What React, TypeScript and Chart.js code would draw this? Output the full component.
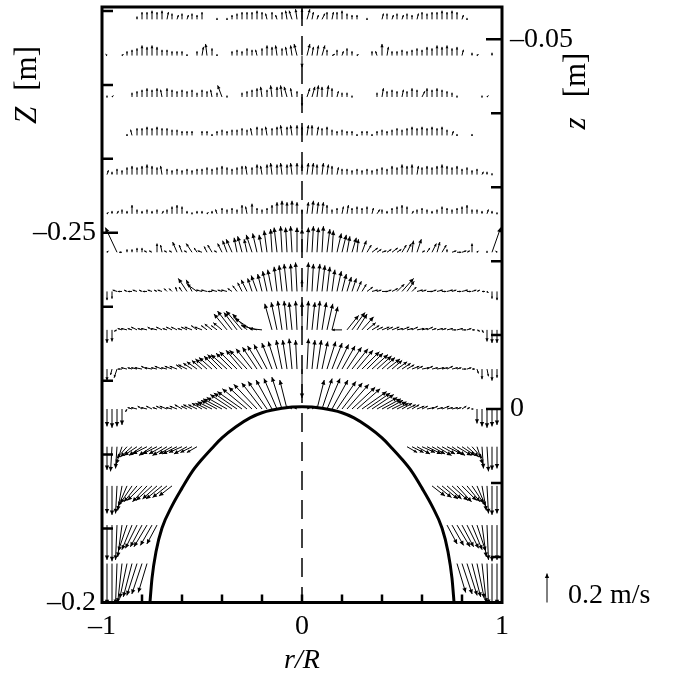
import React, { useEffect, useRef } from "react";
import { Chart, registerables } from "chart.js";

Chart.register(...registerables);

const _ = null;
const SERIF = '"Liberation Serif", "Times New Roman", serif';

// ---------- axes ----------
const X_TICKS = [-1, -0.8, -0.6, -0.4, -0.2, 0, 0.2, 0.4, 0.6, 0.8, 1];
const X_LABELS = ["–1", "", "", "", "", "0", "", "", "", "", "1"];
const ZL_TICKS = [-0.28, -0.27, -0.26, -0.25, -0.24, -0.23, -0.22, -0.21, -0.2];
const ZL_LABELS = ["", "", "", "–0.25", "", "", "", "", "–0.2"];
const ZR_TICKS = [-0.05, -0.04, -0.03, -0.02, -0.01, 0, 0.01, 0.02];
const ZR_LABELS = ["–0.05", "", "", "", "", "0", "", ""];
const Z_RIGHT_RANGE = [-0.05437, 0.02617];
const Z_LEFT_RANGE = [-0.28054, -0.2];

// ---------- interface (dome) ----------
const DOME_X = [-0.765, -0.76, -0.75, -0.73, -0.7, -0.65, -0.6, -0.55, -0.5, -0.45, -0.4, -0.33, -0.26, -0.2, -0.1, 0, 0.1, 0.2, 0.26, 0.33, 0.4, 0.45, 0.5, 0.55, 0.6, 0.65, 0.7, 0.73, 0.75, 0.76, 0.765];
const DOME_Z = [0.0279, 0.0261, 0.0229, 0.0193, 0.0161, 0.0131, 0.0107, 0.0085, 0.0068, 0.0053, 0.0039, 0.0024, 0.0012, 0.0005, -0.0001, -0.0003, -0.0001, 0.0005, 0.0012, 0.0024, 0.0039, 0.0053, 0.0068, 0.0085, 0.0107, 0.0131, 0.0161, 0.0193, 0.0229, 0.0261, 0.0279];

// ---------- velocity field: columns r/R, rows z [m], velocities in cm/s (w > 0 upward) ----------
const COLS = [
  -0.975, -0.95, -0.925, -0.9, -0.875, -0.85, -0.825, -0.8, -0.775, -0.75,
  -0.725, -0.7, -0.675, -0.65, -0.625, -0.6, -0.575, -0.55, -0.525, -0.5,
  -0.475, -0.45, -0.425, -0.4, -0.375, -0.35, -0.325, -0.3, -0.275, -0.25,
  -0.225, -0.2, -0.175, -0.15, -0.125, -0.1, -0.075, -0.05, -0.025, 0,
  0.025, 0.05, 0.075, 0.1, 0.125, 0.15, 0.175, 0.2, 0.225, 0.25,
  0.275, 0.3, 0.325, 0.35, 0.375, 0.4, 0.425, 0.45, 0.475, 0.5,
  0.525, 0.55, 0.575, 0.6, 0.625, 0.65, 0.675, 0.7, 0.725, 0.75,
  0.775, 0.8, 0.825, 0.85, 0.875, 0.9, 0.925, 0.95, 0.975,
];
const ROW_Z = [-0.0527, -0.0478, -0.0422, -0.037, -0.0317, -0.0264, -0.0212, -0.0159, -0.0107, -0.0054, 0.0, 0.0051, 0.0104, 0.0157, 0.0209];

const U_M10 = [0,0,0,0,0,0,0,0,0,0, 0,0,1,0,1,0,1,0,0,0, 0,0,0,0,0,0,0,0,0,0, 0,0,-1,0,-1,0,-1,-2,-1,0, 2,1,1,2,0,1,0,0,0,0, 0,0,0,0,0,1,0,1,0,1, 0,0,1,0,0,0,0,0,0,0, 0,1,0,0,0,0,0,0,0];
const W_M10 = [0,0,0,0,0,0,2,5,5,6, 5,6,5,4,3,4,3,4,3,5, 0,0,1,0,1,3,4,5,5,5, 6,5,4,5,3,5,6,6,7,7, 7,5,3,4,5,5,5,6,4,3, 3,0,1,0,0,4,4,3,4,3, 4,3,4,5,4,5,5,6,5,6, 5,3,1,0,0,0,0,0,0];
const U_M9 = [-1,0,0,1,0,0,0,0,0,0, 0,0,0,0,0,0,0,0,0,1, -1,0,0,0,0,0,0,0,0,0, -1,0,0,0,-1,0,-1,-1,-2,0, 2,1,1,2,0,2,0,1,0,0, 1,0,0,0,-1,0,1,0,0,0, 0,0,0,0,0,0,0,0,0,0, 0,1,0,0,1,0,0,0,0];
const W_M9 = [1,0,0,1,3,4,5,7,6,7, 6,4,4,3,3,3,1,0,3,6, 8,5,1,0,0,3,4,3,5,4, 4,5,7,6,7,5,6,7,8,-8, 8,6,7,7,4,1,4,3,5,3, 1,0,0,3,3,8,6,3,3,4, 3,4,5,4,6,5,7,6,7,5, 6,4,0,2,1,0,0,2,0];
const U_M8 = [0,1,0,0,0,0,0,0,0,0, 0,-1,0,0,0,0,0,0,0,0, 0,-1,0,-3,0,0,0,0,0,0, 0,-1,0,-1,0,-1,-2,-1,0,0, 2,2,1,0,1,0,1,0,0,0, 0,0,0,0,0,1,0,0,0,1, 0,0,0,2,0,0,0,0,0,0, 0,0,0,0,0,0,1,0,0];
const W_M8 = [1,1,0,0,0,3,4,5,6,5, 6,5,6,5,4,5,4,5,3,5, 4,5,3,8,1,0,0,3,4,5, 6,7,5,8,7,8,7,6,4,-6, 6,7,8,7,8,6,4,3,3,1, 0,0,0,0,3,6,4,5,4,5, 4,6,5,4,6,5,6,5,4,3, 1,0,0,0,0,1,1,0,0];
const U_M7 = [0,0,0,0,0,-1,0,0,0,0, 0,0,0,0,0,0,0,0,0,0, 0,0,0,0,0,0,0,0,0,-1, 0,0,-1,0,0,-1,0,-1,0,0, 1,0,1,0,0,0,0,0,0,0, 0,0,0,0,0,0,0,0,0,0, 0,0,0,0,0,0,0,0,0,1, 0,0,0,0,0,0,0,0,0];
const W_M7 = [0,0,0,0,1,4,5,5,6,5, 6,5,5,4,4,3,3,3,0,3, 3,1,3,4,3,4,4,5,4,5, 6,5,6,5,6,7,6,7,7,6, 7,7,6,5,6,4,3,4,3,3, 1,3,3,1,3,4,3,4,5,4, 5,6,5,6,5,6,5,6,4,3, 1,0,0,1,0,0,0,0,0];
const U_M6 = [1,0,0,0,0,0,0,0,0,0, 0,-1,0,0,0,0,0,0,0,0, 0,0,0,0,0,0,0,0,-1,0, 0,-1,0,-1,0,-1,0,-1,0,0, 1,1,0,1,1,0,1,0,0,0, 0,0,0,0,0,0,0,0,0,0, 0,0,1,0,0,0,0,0,0,0, 0,0,0,0,0,1,0,0,0];
const W_M6 = [3,2,4,3,5,6,5,6,7,6, 5,6,4,3,4,3,4,3,4,4, 5,4,5,6,5,4,5,6,6,5, 7,6,7,8,7,8,7,8,8,7, 8,8,7,8,7,6,5,4,4,3, 4,3,4,3,4,5,4,6,5,7, 6,7,6,5,6,5,6,7,6,5, 6,4,5,3,4,2,2,1,0];
const U_M5 = [1,0,1,0,0,0,0,0,0,0, 0,1,0,0,0,0,0,0,0,0, 1,0,-1,0,0,0,0,0,-1,0, 0,0,0,0,0,0,0,0,0,0, 1,1,1,1,0,0,0,1,1,0, 0,0,0,1,2,0,0,0,0,0, 0,1,0,0,0,0,0,0,0,0, 0,0,0,0,0,0,1,0,0];
const W_M5 = [1,2,2,3,2,6,3,2,3,2, 3,2,3,5,6,5,2,1,2,2, 1,2,3,4,3,4,3,6,5,7, 4,3,4,6,8,9,8,9,8,3, 8,9,8,8,6,3,4,5,6,4, 5,4,5,4,3,3,2,4,5,6, 5,2,3,4,3,2,3,5,4,3, 4,5,6,3,3,2,3,2,1];
const U_M4 = [1,0,-8,-2,0,0,0,0,-2,-2, 0,-1,-2,-2,-3,-2,-2,-4,-2,-3, -2,-3,-2,-3,-3,-4,-2,-3,-2,-4, -3,-2,-2,-1,-2,-1,-1,-1,0,0, 1,1,1,1,2,1,3,3,2,3, 1,3,3,4,3,3,3,4,3,3, 3,1,3,2,2,3,2,3,0,3, 3,3,2,0,1,0,0,6,-1];
const W_M4 = [1,0,17,0,2,2,3,3,1,1, 6,5,1,1,7,5,1,6,3,1, 4,5,1,6,8,9,10,11,9,12, 13,12,15,16,17,18,17,18,17,16, 17,18,17,18,16,15,13,12,11,10, 9,8,5,3,2,1,2,3,2,5, 6,8,9,1,3,6,7,5,2,1, 0,1,1,6,1,0,1,17,1];
const U_M3 = [0,0,-3,-3,-2,-3,-3,-2,-3,-3, -2,-3,-2,-2,-1,-2,-6,-4,-7,-4, -4,-3,-4,-3,-4,-3,-3,-3,-4,-3, -4,-3,-3,-3,-2,-2,-2,-1,-1,0, 1,1,2,2,2,2,3,3,3,3, 3,3,4,4,3,4,3,4,5,8, 5,3,4,3,4,3,4,3,4,3, 3,4,3,3,2,2,1,0,0];
const W_M3 = [-6,-5,1,0,1,0,1,1,0,1, 1,1,2,2,3,3,9,8,5,1, 1,0,1,1,1,2,4,6,8,9, 11,12,14,15,17,18,19,19,20,8, 20,19,19,18,17,15,14,12,10,9, 7,5,3,1,1,0,1,2,5,9, 7,3,1,1,0,1,1,0,1,1, 0,1,0,1,1,0,-1,-5,-6];
const U_M2 = [0,0,-2,-3,-4,-3,-4,-3,-4,-3, -4,-4,-3,-4,-4,-3,-4,-5,-4,-5, -4,-5,-4,-6,-9,-10,-9,-11,-10,-12, -11,-9,0,-5,-4,-3,-2,-2,-1,0, 1,2,2,3,4,4,0,-7,8,9, 7,8,6,5,4,5,4,5,4,5, 4,4,5,4,4,3,4,3,4,3, 4,3,3,2,2,1,0,0,0];
const W_M2 = [-9,-8,-1,1,1,1,2,1,1,2, 1,2,1,2,2,1,2,2,3,2, 3,4,3,5,11,13,12,13,11,8, 3,1,0,18,19,20,20,19,20,19, 20,19,20,19,18,16,0,0,10,12, 11,9,5,3,2,2,2,2,1,2, 1,2,1,1,2,1,1,1,1,0, 1,0,1,0,-1,-2,-8,-9,-9];
const U_M1 = [0,-1,-2,-3,-4,-3,-4,-5,-4,-5, -4,-5,-4,-5,-5,-4,-6,-6,-7,-7, -8,-9,-9,-10,-11,-11,-12,-11,-12,-11, -10,-10,-9,-7,-6,-4,-3,-2,-1,0, 1,2,3,4,6,7,8,9,10,11, 11,12,11,11,10,9,9,7,7,6, 5,5,4,5,4,4,5,4,4,4, 3,3,3,2,1,0,1,0,0];
const W_M1 = [-8,-4,-6,0,1,1,1,1,2,1, 1,2,1,2,2,3,3,4,5,6, 7,8,9,10,10,11,12,13,13,14, 15,16,17,18,19,20,20,21,20,-20, 21,20,20,19,19,18,17,16,15,14, 13,12,11,10,9,8,7,6,5,4, 3,2,2,1,2,1,1,1,2,1, 1,0,1,0,-3,-7,-5,-8,-6];
const U_P0 = [0,0,0,0,-1,-3,-4,-3,-4,-4, -3,-4,-5,-4,-5,-5,-4,-6,-6,-7, -8,-10,-11,-13,-14,-15,-16,-17,-17,-16, -16,-14,-13,-11,-9,-7,-5,-3,-2,0, 2,3,5,7,9,11,13,14,15,16, 16,17,16,15,14,13,11,10,8,7, 6,5,5,4,5,4,4,5,4,4, 3,3,2,1,0,0,0,0,0];
const W_P0 = [-12,-13,-12,-11,-2,1,1,2,1,2, 1,2,2,1,2,3,2,3,3,4, 4,5,6,7,8,10,11,12,14,15, 17,18,19,20,21,22,20,2,1,0, 1,2,20,21,21,20,19,18,17,15, 14,12,11,10,8,7,6,5,4,4, 3,3,2,2,1,2,1,2,1,1, 1,2,1,0,-10,-12,-13,-12,-11];
const U_P1 = [0,-1,-1,-4,-7,-8,-9,-9,-10,-9, -10,-9,-10,-9,-10,-9,-9,-8,-7, _,
  _,_,_,_,_,_,_,_,_,_, _,_,_,_,_,_,_,_,_,_, _,_,_,_,_,_,_,_,_,_, _,_,_,_,_,_,_,_,_,_,
  7,8,9,9,10,9,10,9,10,9, 10,9,8,7,4,1,1,0,0];
const W_P1 = [-16,-17,-15,-12,-8,-7,-6,-6,-5,-6, -5,-5,-6,-5,-5,-4,-5,-4,-4, _,
  _,_,_,_,_,_,_,_,_,_, _,_,_,_,_,_,_,_,_,_, _,_,_,_,_,_,_,_,_,_, _,_,_,_,_,_,_,_,_,_,
  -4,-4,-5,-4,-5,-5,-6,-5,-5,-6, -6,-6,-7,-8,-12,-15,-17,-16,-15];
const U_P2 = [0,0,-1,-3,-6,-8,-9,-10,-10,-11, -10,-11,-10,-9, _,_,_,_,_,_,
  _,_,_,_,_,_,_,_,_,_, _,_,_,_,_,_,_,_,_,_, _,_,_,_,_,_,_,_,_,_, _,_,_,_,_,_,_,_,_,_, _,_,_,_,_,
  9,10,11,10,11, 10,10,9,8,6,3,1,0,0];
const W_P2 = [-19,-20,-19,-17,-14,-12,-11,-10,-11,-10, -9,-9,-8,-7, _,_,_,_,_,_,
  _,_,_,_,_,_,_,_,_,_, _,_,_,_,_,_,_,_,_,_, _,_,_,_,_,_,_,_,_,_, _,_,_,_,_,_,_,_,_,_, _,_,_,_,_,
  -7,-8,-9,-9,-10, -11,-10,-11,-12,-14,-17,-19,-20,-19];
const U_P3 = [0,0,-1,-3,-6,-7,-8,-8,-9,-8, -7, _,_,_,_,_,_,_,_,_,
  _,_,_,_,_,_,_,_,_,_, _,_,_,_,_,_,_,_,_,_, _,_,_,_,_,_,_,_,_,_, _,_,_,_,_,_,_,_,_,_, _,_,_,_,_,_,_,_,
  7,8, 9,8,8,7,6,3,1,0,0];
const W_P3 = [-24,-25,-24,-22,-18,-17,-16,-15,-15,-14, -13, _,_,_,_,_,_,_,_,_,
  _,_,_,_,_,_,_,_,_,_, _,_,_,_,_,_,_,_,_,_, _,_,_,_,_,_,_,_,_,_, _,_,_,_,_,_,_,_,_,_, _,_,_,_,_,_,_,_,
  -13,-14, -15,-15,-16,-17,-18,-22,-24,-25,-24];
const U_P4 = [0,0,-1,-3,-5,-6,-7,-7,-6, _,
  _,_,_,_,_,_,_,_,_,_, _,_,_,_,_,_,_,_,_,_, _,_,_,_,_,_,_,_,_,_, _,_,_,_,_,_,_,_,_,_, _,_,_,_,_,_,_,_,_,_, _,_,_,_,_,_,_,_,_,_,
  6,7,7,6,5,3,1,0,0];
const W_P4 = [-28,-29,-28,-27,-24,-23,-22,-21,-20, _,
  _,_,_,_,_,_,_,_,_,_, _,_,_,_,_,_,_,_,_,_, _,_,_,_,_,_,_,_,_,_, _,_,_,_,_,_,_,_,_,_, _,_,_,_,_,_,_,_,_,_, _,_,_,_,_,_,_,_,_,_,
  -20,-21,-22,-23,-24,-27,-28,-29,-28];

const ROW_U = [U_M10, U_M9, U_M8, U_M7, U_M6, U_M5, U_M4, U_M3, U_M2, U_M1, U_P0, U_P1, U_P2, U_P3, U_P4];
const ROW_W = [W_M10, W_M9, W_M8, W_M7, W_M6, W_M5, W_M4, W_M3, W_M2, W_M1, W_P0, W_P1, W_P2, W_P3, W_P4];

const LEGEND_SPEED = 20; // cm/s
const LEGEND_TEXT = "0.2 m/s";
const LEGEND_X = 1.225; // r/R position of the reference arrow
const ARROW_PX_PER_LEGEND = 29; // drawn length of the 0.2 m/s arrow

function drawArrow(ctx: CanvasRenderingContext2D, x0: number, y0: number, x1: number, y1: number) {
  const dx = x1 - x0, dy = y1 - y0;
  const len = Math.hypot(dx, dy);
  if (len < 0.6) return;
  ctx.beginPath();
  ctx.moveTo(x0, y0);
  ctx.lineTo(x1, y1);
  ctx.stroke();
  const h = Math.min(5, Math.max(2.2, len * 0.32));
  const a = Math.atan2(dy, dx);
  const s = 0.45;
  ctx.beginPath();
  ctx.moveTo(x1, y1);
  ctx.lineTo(x1 - h * Math.cos(a - s), y1 - h * Math.sin(a - s));
  ctx.lineTo(x1 - h * Math.cos(a + s), y1 - h * Math.sin(a + s));
  ctx.closePath();
  ctx.fill();
}

const quiverPlugin = {
  id: "quiver",
  beforeDatasetsDraw(chart: any) {
    const { ctx, chartArea: ca, scales } = chart;
    const xs = scales.x, zs = scales.y;
    const pxX = xs.getPixelForValue(1) - xs.getPixelForValue(0);
    const pxZ = zs.getPixelForValue(0.01) - zs.getPixelForValue(0);
    const k = ARROW_PX_PER_LEGEND / LEGEND_SPEED;
    const kx = k / pxX; // r/R per cm/s
    const kz = k / (pxZ / 0.01); // m per cm/s
    ctx.save();
    ctx.beginPath();
    ctx.rect(ca.left, ca.top, ca.right - ca.left, ca.bottom - ca.top);
    ctx.clip();
    ctx.strokeStyle = "#000";
    ctx.fillStyle = "#000";
    ctx.lineWidth = 1;
    ROW_Z.forEach((z, r) => {
      const U = ROW_U[r], W = ROW_W[r];
      COLS.forEach((x, i) => {
        const u = U[i], w = W[i];
        if (u == null || w == null || (u === 0 && w === 0)) return;
        drawArrow(
          ctx,
          xs.getPixelForValue(x),
          zs.getPixelForValue(z),
          xs.getPixelForValue(x + u * kx),
          zs.getPixelForValue(z - w * kz)
        );
      });
    });
    ctx.restore();
  },
  afterDraw(chart: any) {
    const { ctx, chartArea: ca, scales } = chart;
    const xs = scales.x, zs = scales.y, zl = scales.yL;
    ctx.save();
    ctx.strokeStyle = "#000";
    ctx.fillStyle = "#000";
    // frame
    ctx.lineWidth = 3;
    ctx.strokeRect(ca.left, ca.top, ca.right - ca.left, ca.bottom - ca.top);
    // ticks
    ctx.lineWidth = 2.5;
    ctx.beginPath();
    X_TICKS.forEach((v, i) => {
      if (i === 0 || i === X_TICKS.length - 1) return;
      const p = xs.getPixelForValue(v);
      ctx.moveTo(p, ca.bottom);
      ctx.lineTo(p, ca.bottom - 8);
    });
    ZL_TICKS.forEach((v, i) => {
      const p = zl.getPixelForValue(v);
      const L = ZL_LABELS[i] ? 16 : 11;
      ctx.moveTo(ca.left, p);
      ctx.lineTo(ca.left + L, p);
    });
    ZR_TICKS.forEach((v, i) => {
      const p = zs.getPixelForValue(v);
      const L = ZR_LABELS[i] ? 16 : 11;
      ctx.moveTo(ca.right, p);
      ctx.lineTo(ca.right - L, p);
    });
    ctx.stroke();
    // tick labels
    ctx.font = `28px ${SERIF}`;
    ctx.textBaseline = "middle";
    ctx.textAlign = "right";
    ZL_TICKS.forEach((v, i) => {
      if (ZL_LABELS[i]) ctx.fillText(ZL_LABELS[i], ca.left - 6, zl.getPixelForValue(v));
    });
    ctx.textAlign = "left";
    ZR_TICKS.forEach((v, i) => {
      if (ZR_LABELS[i]) ctx.fillText(ZR_LABELS[i], ca.right + 8, zs.getPixelForValue(v));
    });
    ctx.textAlign = "center";
    ctx.textBaseline = "top";
    X_TICKS.forEach((v, i) => {
      if (X_LABELS[i]) ctx.fillText(X_LABELS[i], xs.getPixelForValue(v), ca.bottom + 10);
    });
    // x title
    ctx.font = `italic 28px ${SERIF}`;
    ctx.fillText("r/R", xs.getPixelForValue(0), ca.bottom + 44);
    // rotated titles
    const vTitle = (cx: number, cy: number, a: string, b: string, gap: number) => {
      ctx.save();
      ctx.translate(cx, cy);
      ctx.rotate(-Math.PI / 2);
      ctx.textAlign = "left";
      ctx.textBaseline = "middle";
      ctx.font = `italic 31px ${SERIF}`;
      const wa = ctx.measureText(a).width;
      ctx.font = `31px ${SERIF}`;
      const wb = ctx.measureText(b).width;
      const x0 = -(wa + gap + wb) / 2;
      ctx.font = `italic 31px ${SERIF}`;
      ctx.fillText(a, x0, 0);
      ctx.font = `31px ${SERIF}`;
      ctx.fillText(b, x0 + wa + gap, 0);
      ctx.restore();
    };
    vTitle(28, 85, "Z", "[m]", 16);
    vTitle(577, 91, "z", "[m]", 20);
    // legend arrow
    const k = ARROW_PX_PER_LEGEND / LEGEND_SPEED;
    const pxZ = (zs.getPixelForValue(0.01) - zs.getPixelForValue(0)) / 0.01;
    const lz = Z_RIGHT_RANGE[1];
    const lx = xs.getPixelForValue(LEGEND_X);
    ctx.lineWidth = 1;
    drawArrow(ctx, lx, zs.getPixelForValue(lz), lx, zs.getPixelForValue(lz - LEGEND_SPEED * k / pxZ));
    ctx.font = `28px ${SERIF}`;
    ctx.textAlign = "left";
    ctx.textBaseline = "alphabetic";
    ctx.fillText(LEGEND_TEXT, lx + 21, ca.bottom);
    ctx.restore();
  },
};

export default function App() {
  const ref = useRef<HTMLCanvasElement>(null);
  useEffect(() => {
    const chart = new Chart(ref.current as HTMLCanvasElement, {
      type: "scatter",
      data: {
        datasets: [
          {
            data: [
              { x: 0, y: Z_RIGHT_RANGE[0] },
              { x: 0, y: Z_RIGHT_RANGE[1] },
            ],
            showLine: true,
            borderColor: "#000",
            borderWidth: 1.5,
            borderDash: [19, 10],
            pointRadius: 0,
            xAxisID: "x",
            yAxisID: "y",
          },
          {
            data: DOME_X.map((x, i) => ({ x, y: DOME_Z[i] })),
            showLine: true,
            borderColor: "#000",
            borderWidth: 3,
            cubicInterpolationMode: "monotone",
            pointRadius: 0,
            xAxisID: "x",
            yAxisID: "y",
          },
        ],
      },
      options: {
        animation: false,
        responsive: true,
        maintainAspectRatio: false,
        events: [],
        layout: { padding: { left: 102, right: 176, top: 7, bottom: 79.5 } },
        plugins: { legend: { display: false }, tooltip: { enabled: false } },
        scales: {
          x: { type: "linear", min: -1, max: 1, display: false },
          y: { type: "linear", position: "right", min: Z_RIGHT_RANGE[0], max: Z_RIGHT_RANGE[1], reverse: true, display: false },
          yL: { type: "linear", position: "left", min: Z_LEFT_RANGE[0], max: Z_LEFT_RANGE[1], reverse: true, display: false },
        },
      } as any,
      plugins: [quiverPlugin],
    });
    return () => chart.destroy();
  }, []);
  return (
    <div style={{ position: "fixed", left: 0, top: 0, width: 678, height: 682, background: "#fff" }}>
      <canvas ref={ref} />
    </div>
  );
}
